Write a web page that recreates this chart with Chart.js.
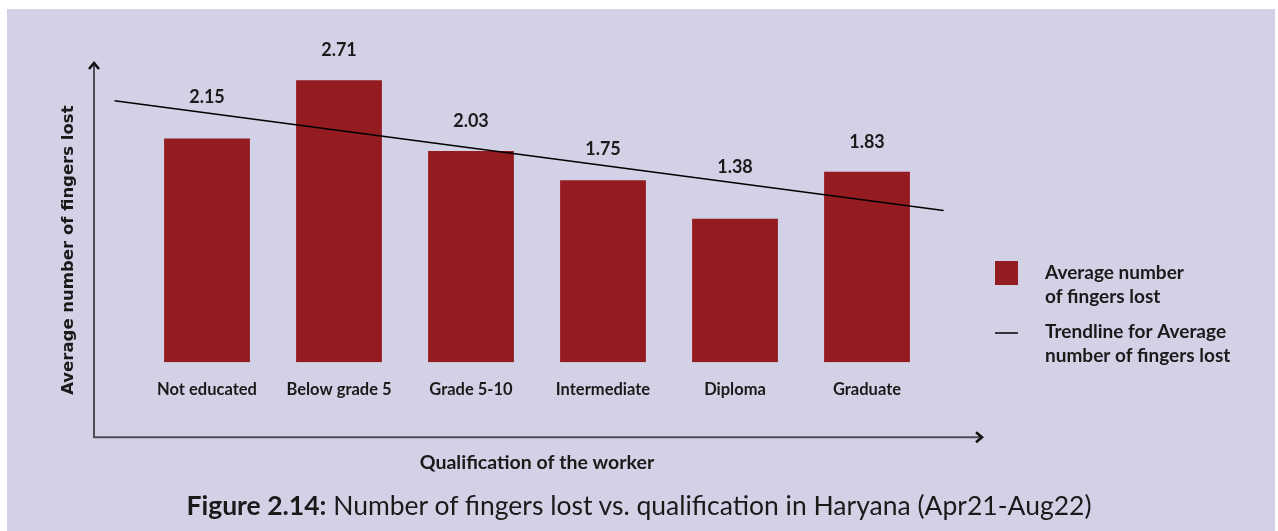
<!DOCTYPE html>
<html>
<head>
<meta charset="utf-8">
<script src="https://cdn.jsdelivr.net/npm/chart.js@4.4.0/dist/chart.umd.min.js"></script>
<style>
  html, body { margin: 0; padding: 0; background: #ffffff; }
  #panel {
    position: absolute; left: 7px; top: 9px; width: 1268px; height: 522px;
    background: #d3d1e6;
  }
  #wrap { position: absolute; left: 0; top: 0; width: 1278px; height: 531px; }
  #caption {
    position: absolute; left: 0; width: 1278px; top: 490px; line-height: 30px;
    text-align: center; font-family: Lato, sans-serif; font-size: 26.5px; color: #1a1a1a;
  }
  #caption b { font-weight: 700; }
</style>
</head>
<body>
<div id="panel"></div>
<div id="wrap"><canvas id="fingersChart" width="1278" height="531"></canvas></div>
<div id="caption"><b>Figure 2.14:</b> Number of fingers lost vs. qualification in Haryana (Apr21-Aug22)</div>
<script>
// Data
var categories = ["Not educated", "Below grade 5", "Grade 5-10", "Intermediate", "Diploma", "Graduate"];
var avgFingersLost = [2.15, 2.71, 2.03, 1.75, 1.38, 1.83];
var yTitle = "Average number of fingers lost";
var barLegendLines = ["Average number", "of fingers lost"];
var trendLegendLines = ["Trendline for Average", "number of fingers lost"];
// how far the trendline is drawn, in category index units
var trendExtent = [-0.7, 5.58];

// least squares trendline of the bar values
function trendPoints(values, extent) {
    var n = values.length, sx = 0, sy = 0, sxy = 0, sxx = 0;
    for (var i = 0; i < n; i++) {
        sx += i; sy += values[i]; sxy += i * values[i]; sxx += i * i;
    }
    var slope = (n * sxy - sx * sy) / (n * sxx - sx * sx);
    var icpt = (sy - slope * sx) / n;
    return extent.map(function (x) { return { x: x, y: icpt + slope * x }; });
}

var barColor = "#941b1f";
var inkColor = "#1a1a1a";

// value labels above the bars, lifted clear of the trendline
var valueLabels = {
    id: "valueLabels",
    afterDatasetsDraw: function (chart) {
        var ctx = chart.ctx;
        var meta = chart.getDatasetMeta(0);
        var line = chart.getDatasetMeta(1).data;
        var p0 = line[0], p1 = line[line.length - 1];
        ctx.save();
        ctx.font = "bold 18px Lato";
        ctx.fillStyle = inkColor;
        ctx.textAlign = "center";
        ctx.textBaseline = "middle";
        meta.data.forEach(function (bar, i) {
            var trendY = p0.y + (p1.y - p0.y) * (bar.x - p0.x) / (p1.x - p0.x);
            var y = Math.min(bar.y - 30, trendY - 16);
            ctx.fillText(avgFingersLost[i].toFixed(2), bar.x, y);
        });
        ctx.restore();
    }
};

// arrow axes, y title and the legend on the right
var decorations = {
    id: "decorations",
    afterDraw: function (chart) {
        var ctx = chart.ctx, a = chart.chartArea;
        var x0 = a.left - 47, y0 = a.bottom + 75;
        var yTop = a.top + 13, xEnd = a.right + 49;
        ctx.save();
        ctx.strokeStyle = "#4d4d57";
        ctx.lineWidth = 2;
        ctx.beginPath();
        ctx.moveTo(x0, yTop + 1);
        ctx.lineTo(x0, y0);
        ctx.lineTo(xEnd - 1, y0);
        ctx.stroke();
        ctx.strokeStyle = "#111111";
        ctx.lineWidth = 2.6;
        ctx.beginPath();
        ctx.moveTo(x0 - 5, yTop + 6);
        ctx.lineTo(x0, yTop);
        ctx.lineTo(x0 + 5, yTop + 6);
        ctx.moveTo(xEnd - 6, y0 - 5);
        ctx.lineTo(xEnd, y0);
        ctx.lineTo(xEnd - 6, y0 + 5);
        ctx.stroke();

        // y axis title, centred on the arrow axis
        ctx.translate(x0 - 25, (yTop + y0) / 2);
        ctx.rotate(-Math.PI / 2);
        ctx.fillStyle = inkColor;
        ctx.font = "bold 16.5px 'DejaVu Sans'";
        ctx.textAlign = "center";
        ctx.textBaseline = "middle";
        ctx.fillText(yTitle, 0, 0);
        ctx.setTransform(1, 0, 0, 1, 0, 0);

        // legend
        var lx = a.right + 62, tx = a.right + 112;
        ctx.fillStyle = chart.data.datasets[0].backgroundColor;
        ctx.fillRect(lx, 261, 23, 24);
        ctx.strokeStyle = chart.data.datasets[1].borderColor;
        ctx.lineWidth = 1.5;
        ctx.beginPath();
        ctx.moveTo(lx, 333);
        ctx.lineTo(lx + 23, 333);
        ctx.stroke();
        ctx.fillStyle = inkColor;
        ctx.font = "bold 19px Lato";
        ctx.textAlign = "left";
        ctx.textBaseline = "middle";
        barLegendLines.forEach(function (t, i) { ctx.fillText(t, tx, 273 + i * 24); });
        trendLegendLines.forEach(function (t, i) { ctx.fillText(t, tx, 332 + i * 24); });
        ctx.restore();
    }
};

var ctx = document.getElementById("fingersChart").getContext("2d");

var fingersChart = new Chart(ctx, {
    type: "bar",
    data: {
        labels: categories,
        datasets: [{
            label: "Average number of fingers lost",
            data: avgFingersLost,
            backgroundColor: barColor,
            borderWidth: 0,
            grouped: false,
            categoryPercentage: 1,
            barPercentage: 0.65,
            order: 1
        }, {
            type: "line",
            label: "Trendline for Average number of fingers lost",
            data: trendPoints(avgFingersLost, trendExtent),
            xAxisID: "xTrend",
            borderColor: "#000000",
            borderWidth: 1.5,
            pointRadius: 0,
            clip: false,
            order: 0
        }]
    },
    options: {
        responsive: false,
        animation: false,
        layout: { padding: { left: 141, right: 345, top: 50, bottom: 51 } },
        plugins: {
            legend: { display: false },
            tooltip: { enabled: false }
        },
        scales: {
            x: {
                grid: { display: false },
                border: { display: false },
                ticks: {
                    color: inkColor,
                    padding: 9,
                    font: { family: "Lato", size: 16.5, weight: "bold" }
                },
                title: {
                    display: true,
                    text: "Qualification of the worker",
                    color: inkColor,
                    font: { family: "Lato", size: 19.5, weight: "bold" },
                    padding: { top: 42.5, bottom: 6 }
                }
            },
            xTrend: {
                type: "linear",
                position: "bottom",
                display: false,
                offset: false,
                min: -0.5,
                max: 5.5
            },
            y: {
                display: false,
                min: 0,
                max: 3
            }
        }
    },
    plugins: [valueLabels, decorations]
});
</script>
</body>
</html>
